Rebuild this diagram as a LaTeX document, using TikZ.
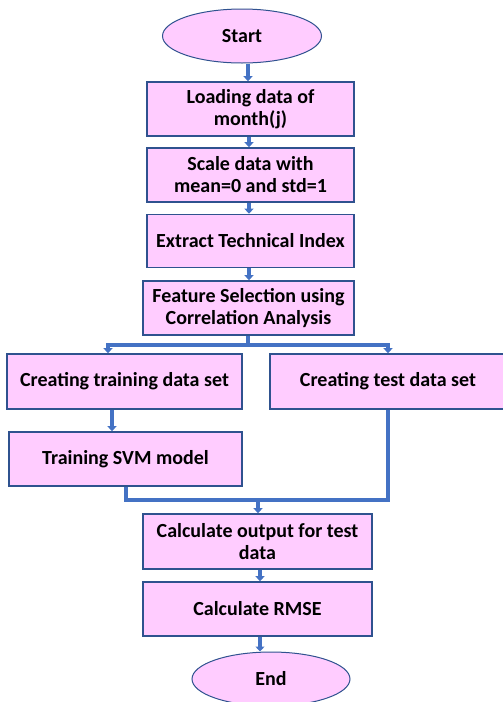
\documentclass[tikz,border=0pt]{standalone}
\usepackage{fontspec}
\setmainfont{Carlito}
\usetikzlibrary{shapes.geometric,arrows.meta}
\definecolor{boxfill}{RGB}{255,204,255}
\definecolor{boxline}{RGB}{47,82,143}
\definecolor{arrowblue}{RGB}{68,114,196}
\tikzset{
  x=1pt,y=-1pt,
  procbox/.style={draw=boxline,line width=1.6pt,fill=boxfill,rectangle,align=center,
    font=\fontsize{20}{22}\selectfont\bfseries,inner sep=0pt},
  term/.style={draw=boxline,line width=1pt,fill=boxfill,ellipse,inner sep=0pt,
    font=\fontsize{20}{22}\selectfont\bfseries},
  flow/.style={draw=arrowblue,line width=3.4pt,-{Triangle[width=9pt,length=5pt]}},
  plain/.style={draw=arrowblue,line width=3.4pt}
}
\begin{document}
\begin{tikzpicture}
\useasboundingbox (0,0) rectangle (503,702);
\node[term,minimum width=159,minimum height=54] (start) at (242,36) {Start};
\node[procbox,minimum width=207,minimum height=54] (load) at (250.5,109) {Loading data of\\month(j)};
\node[procbox,minimum width=207,minimum height=54] (scale) at (250.5,175) {Scale data with\\mean=0 and std=1};
\node[procbox,minimum width=207,minimum height=53] (extract) at (250.5,241) {Extract Technical Index};
\node[procbox,minimum width=211,minimum height=54] (feat) at (248.5,308) {Feature Selection using\\Correlation Analysis};
\node[procbox,minimum width=235,minimum height=55] (train) at (124.5,381.5) {Creating training data set};
\node[procbox,minimum width=236,minimum height=55] (test) at (388,381.5) {Creating test data set};
\node[procbox,minimum width=233,minimum height=54] (svm) at (125.5,459) {Training SVM model};
\node[procbox,minimum width=229,minimum height=55] (calc) at (257.5,541.5) {Calculate output for test\\data};
\node[procbox,minimum width=229,minimum height=54] (rmse) at (257.5,609) {Calculate RMSE};
\node[term,minimum width=158,minimum height=54] (end) at (271,679) {End};

\coordinate (split) at (248,345);
\coordinate (join) at (258,500);
\draw[flow] (start.south -| 248,0) -- (load.north -| 248,0);
\draw[flow] (load.south -| 249,0) -- (scale.north -| 249,0);
\draw[flow] (scale.south -| 249,0) -- (extract.north -| 249,0);
\draw[flow] (extract.south -| 249,0) -- (feat.north -| 249,0);
\draw[plain] (feat.south -| split) -- (split);
\draw[plain] (106.3,345) -- (389.7,345);
\draw[flow] (108,345) -- (train.north -| 108,0);
\draw[flow] (388,345) -- (test.north -| 388,0);
\draw[flow] (train.south -| 112,0) -- (svm.north -| 112,0);
\draw[plain] (svm.south -| 126,0) |- (join);
\draw[plain] (test.south -| 388,0) |- (join);
\draw[flow] (join) -- (calc.north -| join);
\draw[flow] (calc.south -| 260,0) -- (rmse.north -| 260,0);
\draw[flow] (rmse.south -| 260,0) -- (end.north -| 260,0);
\end{tikzpicture}
\end{document}
